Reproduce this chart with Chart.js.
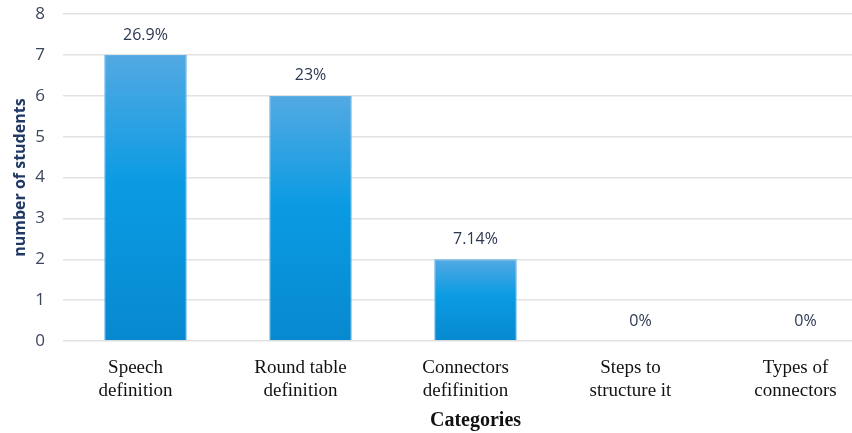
<!DOCTYPE html>
<html>
<head>
<meta charset="utf-8">
<script src="https://cdn.jsdelivr.net/npm/chart.js@4.4.0/dist/chart.umd.min.js"></script>
<style>
  html, body { margin: 0; padding: 0; background: #fff; overflow: hidden; }
  #wrap { width: 890px; height: 447px; margin-top: -14px; }
</style>
</head>
<body>
<div id="wrap"><canvas id="grafico"></canvas></div>
<script>
// ===== Datos =====
const categorias = [
  ["Speech", "definition"],
  ["Round table", "definition"],
  ["Connectors", "defifinition"],
  ["Steps to", "structure it"],
  ["Types of", "connectors"]
];
const estudiantes = [7, 6, 2, 0, 0];
const porcentajes = ["26.9%", "23%", "7.14%", "0%", "0%"];
const ticksY = [0, 1, 2, 3, 4, 5, 6, 7, 8];

// degradado vertical por barra (claro arriba, azul intenso abajo)
function colorBarra(context) {
  const chart = context.chart;
  const { ctx, scales, chartArea } = chart;
  if (!chartArea || !scales.y || context.type !== 'data') return '#0a9be2';
  const top = scales.y.getPixelForValue(context.raw);
  const base = scales.y.getPixelForValue(0);
  if (!isFinite(top) || !isFinite(base) || base - top < 1) return '#0a9be2';
  const g = ctx.createLinearGradient(0, top, 0, base);
  g.addColorStop(0, '#53a9e2');
  g.addColorStop(0.45, '#0a9be3');
  g.addColorStop(1, '#0889cf');
  return g;
}

// etiquetas de porcentaje encima de cada barra
const etiquetasPlugin = {
  id: 'etiquetas',
  afterDatasetsDraw(chart) {
    const ctx = chart.ctx;
    const meta = chart.getDatasetMeta(0);
    ctx.save();
    ctx.font = '16px "Open Sans", sans-serif';
    ctx.fillStyle = '#2b3852';
    ctx.textAlign = 'center';
    ctx.textBaseline = 'middle';
    meta.data.forEach((bar, i) => {
      ctx.fillText(porcentajes[i], bar.x, bar.y - 20);
    });
    ctx.restore();
  }
};

const ctx = document.getElementById("grafico").getContext("2d");
new Chart(ctx, {
  type: 'bar',
  data: {
    labels: categorias,
    datasets: [{
      data: estudiantes,
      backgroundColor: colorBarra,
      borderColor: '#5fb1e6',
      borderWidth: 1,
      barPercentage: 0.5,
      categoryPercentage: 1
    }]
  },
  options: {
    responsive: true,
    maintainAspectRatio: false,
    animation: false,
    layout: { padding: { top: 0, left: 0, right: 2, bottom: 0 } },
    plugins: { legend: { display: false }, tooltip: { enabled: false } },
    scales: {
      x: {
        grid: { display: false },
        border: { display: false },
        afterFit: s => { s.height = 92; },
        ticks: {
          color: '#111',
          font: { family: '"Liberation Serif", serif', size: 19, lineHeight: 1.2 },
          padding: 8,
          labelOffset: -10,
          maxRotation: 0
        },
        title: {
          display: true,
          text: 'Categories',
          color: '#111',
          font: { family: '"Liberation Serif", serif', size: 20, weight: 'bold' },
          padding: { top: 0, bottom: 0 }
        }
      },
      y: {
        min: 0,
        max: 8,
        afterFit: s => { s.width = 63; },
        afterBuildTicks: s => { s.ticks = ticksY.map(v => ({ value: v })); },
        grid: { color: '#e2e2e2', lineWidth: 1.5, drawTicks: false },
        border: { display: false },
        ticks: {
          color: '#3c465c',
          font: { family: '"Open Sans", sans-serif', size: 17 },
          padding: 18
        },
        title: {
          display: true,
          text: 'number of students',
          color: '#1f3864',
          font: { family: '"Open Sans", sans-serif', size: 16, weight: 'bold' },
          padding: { top: 11, bottom: 0 }
        }
      }
    }
  },
  plugins: [etiquetasPlugin]
});
</script>
</body>
</html>
